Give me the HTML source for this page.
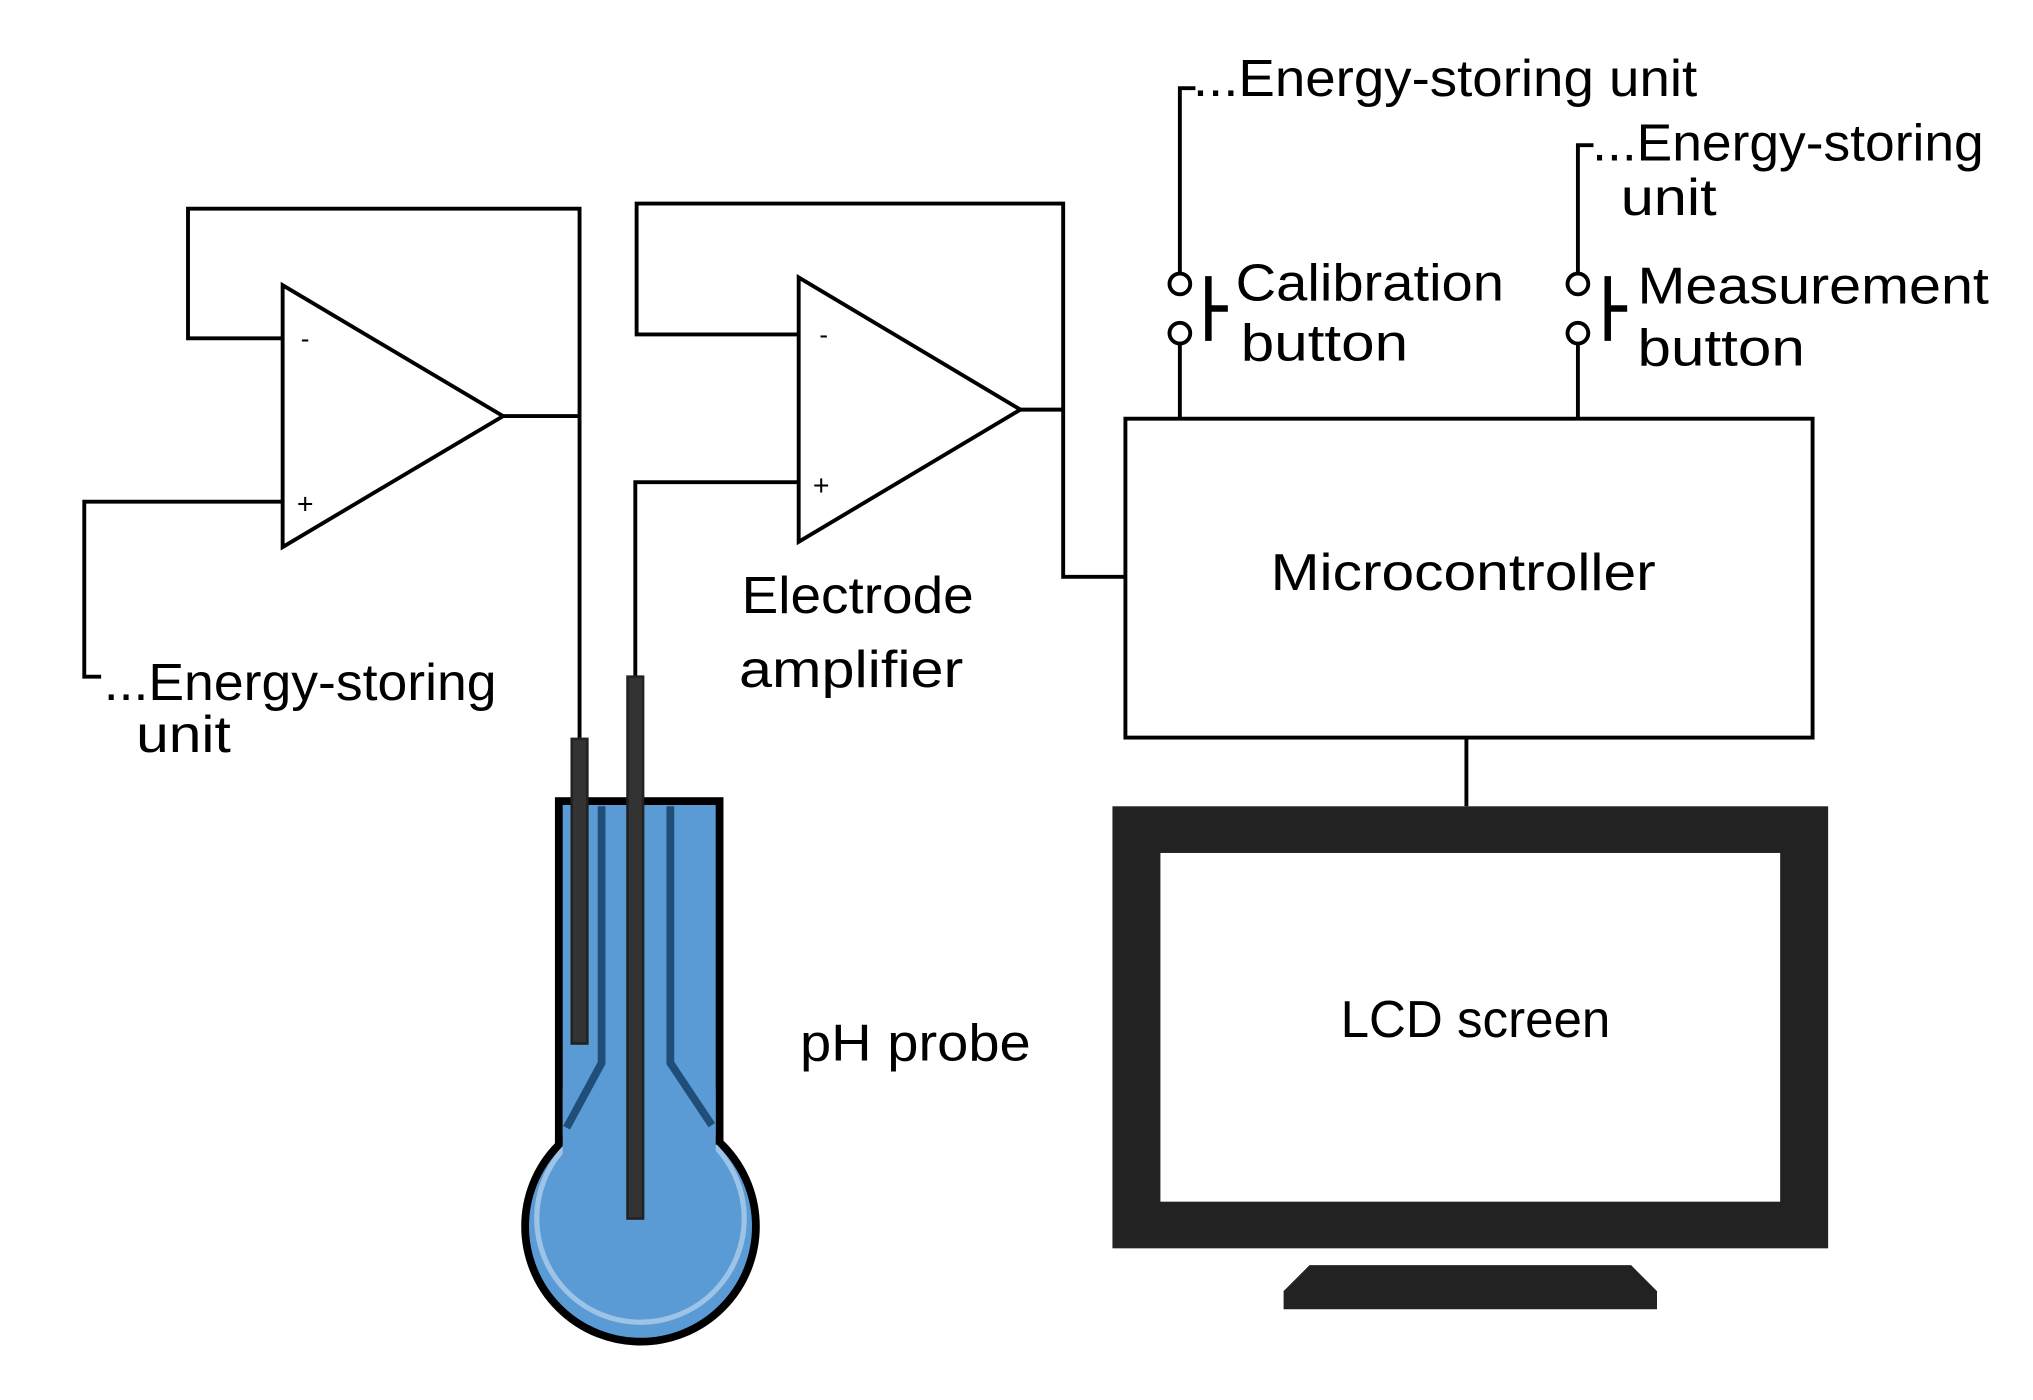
<!DOCTYPE html>
<html><head><style>html,body{margin:0;padding:0;background:#fff}svg{display:block}text{font-family:"Liberation Sans",sans-serif;fill:#000}</style></head>
<body>
<svg width="2033" height="1400" viewBox="0 0 1568 1080" preserveAspectRatio="none" xmlns="http://www.w3.org/2000/svg">
<g fill="none" stroke="#000" stroke-width="3">
<polygon points="218,220 218,422 388,321"/>
<polyline points="218,261 145,261 145,161 447,161 447,570"/>
<line x1="388" y1="321" x2="447" y2="321"/>
<polyline points="218,387 65,387 65,522 78,522"/>
<polygon points="616,214 616,418 787,316"/>
<polyline points="616,258 491,258 491,157 820,157 820,445 868,445"/>
<line x1="787" y1="316" x2="820" y2="316"/>
<polyline points="616,372 490,372 490,522"/>
<rect x="868" y="323" width="530" height="246"/>
<line x1="1131" y1="569" x2="1131" y2="622"/>
<polyline points="922,68 910,68 910,211"/>
<line x1="910" y1="265" x2="910" y2="323"/>
<circle cx="910" cy="219" r="8"/><circle cx="910" cy="257" r="8"/>
<polyline points="1229,112 1217,112 1217,211"/>
<line x1="1217" y1="265" x2="1217" y2="323"/>
<circle cx="1217" cy="219" r="8"/><circle cx="1217" cy="257" r="8"/>
</g>
<g stroke="#000" stroke-width="5">
<line x1="932" y1="213" x2="932" y2="263"/><line x1="932" y1="238" x2="947" y2="238"/>
<line x1="1240" y1="213" x2="1240" y2="263"/><line x1="1240" y1="238" x2="1255" y2="238"/>
</g>
<text x="232" y="268" font-size="20">-</text>
<text x="229" y="396" font-size="22">+</text>
<text x="632" y="265" font-size="20">-</text>
<text x="627" y="382" font-size="22">+</text>
<!-- probe -->
<circle cx="494" cy="946" r="89" fill="#5b9bd5" stroke="#000" stroke-width="6"/>
<circle cx="494" cy="940" r="80" fill="none" stroke="#9dc3e6" stroke-width="4"/>
<rect x="431" y="618" width="124" height="262" fill="#5b9bd5" stroke="#000" stroke-width="6"/>
<rect x="434" y="840" width="118" height="50" fill="#5b9bd5"/>
<g fill="none" stroke="#1f4e79" stroke-width="6">
<polyline points="464,622 464,820 437,870"/>
<polyline points="517,622 517,820 549,868"/>
</g>
<rect x="441" y="570" width="12" height="235" fill="#333" stroke="#222" stroke-width="2"/>
<rect x="484" y="522" width="12" height="418" fill="#333" stroke="#222" stroke-width="2"/>
<!-- monitor -->
<rect x="858" y="622" width="552" height="341" fill="#222"/>
<rect x="895" y="658" width="478" height="269" fill="#fff"/>
<polygon points="1010,976 1258,976 1278,996 1278,1010 990,1010 990,996" fill="#222"/>
<g font-size="40">
<text x="80" y="540" textLength="303" lengthAdjust="spacingAndGlyphs">...Energy-storing</text>
<text x="105" y="580" textLength="73" lengthAdjust="spacingAndGlyphs">unit</text>
<text x="572" y="473" textLength="179" lengthAdjust="spacingAndGlyphs">Electrode</text>
<text x="570" y="530" textLength="173" lengthAdjust="spacingAndGlyphs">amplifier</text>
<text x="617" y="818" textLength="178" lengthAdjust="spacingAndGlyphs">pH probe</text>
<text x="980" y="455" textLength="297" lengthAdjust="spacingAndGlyphs">Microcontroller</text>
<text x="1034" y="800" textLength="208" lengthAdjust="spacingAndGlyphs">LCD screen</text>
<text x="920" y="74" textLength="389" lengthAdjust="spacingAndGlyphs">...Energy-storing unit</text>
<text x="1228" y="124" textLength="302" lengthAdjust="spacingAndGlyphs">...Energy-storing</text>
<text x="1250" y="166" textLength="74" lengthAdjust="spacingAndGlyphs">unit</text>
<text x="953" y="232" textLength="207" lengthAdjust="spacingAndGlyphs">Calibration</text>
<text x="957" y="278" textLength="129" lengthAdjust="spacingAndGlyphs">button</text>
<text x="1263" y="234" textLength="271" lengthAdjust="spacingAndGlyphs">Measurement</text>
<text x="1263" y="282" textLength="129" lengthAdjust="spacingAndGlyphs">button</text>
</g>
</svg>
</body></html>
